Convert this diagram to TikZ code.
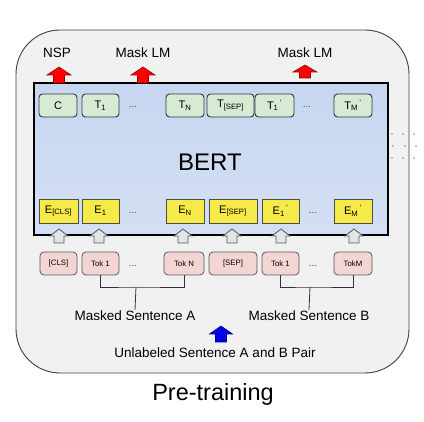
\documentclass[tikz,border=0pt]{standalone}
\usepackage{fontspec}
\setmainfont{Liberation Sans}
\usetikzlibrary{calc}
\definecolor{outerfill}{HTML}{F1F1F1}
\definecolor{berttop}{HTML}{C7D7F1}
\definecolor{bertbot}{HTML}{D3DFF4}
\definecolor{tokgreen}{HTML}{D7EAD3}
\definecolor{embyellow}{HTML}{F6EA48}
\definecolor{tokpink}{HTML}{F3D5D3}
\definecolor{arrowred}{HTML}{FF0000}
\definecolor{arrowblue}{HTML}{0000EE}
\definecolor{arrowgray}{HTML}{E4E4E4}
\tikzset{
  outerbox/.style={draw=black!75, line width=0.9pt, fill=outerfill, rounded corners=44pt},
  bertbox/.style={draw=black, line width=2pt, top color=berttop, bottom color=bertbot},
  tbox/.style={draw=black!80, line width=0.9pt, fill=tokgreen, rounded corners=3.5pt, minimum height=23pt, inner sep=0pt, font=\fontsize{11}{11}\selectfont},
  ebox/.style={draw=black!70, line width=0.9pt, fill=embyellow, minimum height=24pt, inner sep=0pt, font=\fontsize{11}{11}\selectfont},
  kbox/.style={draw=black!65, line width=0.8pt, fill=tokpink, rounded corners=4pt, minimum height=23pt, inner sep=0pt, font=\fontsize{7.8}{7.8}\selectfont},
  dotsl/.style={inner sep=0pt, font=\fontsize{10}{10}\selectfont, text=black!70},
  lbl/.style={inner sep=1pt, font=\fontsize{13.5}{13.5}\selectfont},
  bracket/.style={draw=black!80, line width=0.8pt},
  redarrow/.style={fill=arrowred, draw=red!60!black, line width=0.6pt},
  grayarrow/.style={fill=arrowgray, draw=black!65, line width=0.8pt},
  bluearrow/.style={fill=arrowblue, draw=blue!50!black, line width=0.6pt},
}
% block arrow: #1 x center, #2 top y, #3 bottom y, #4 head half width, #5 shaft half width, #6 head height, #7 style
\newcommand{\blockarrow}[7]{%
  \path[#7] (#1,#2) -- (#1+#4,#2+#6) -- (#1+#5,#2+#6) -- (#1+#5,#3) -- (#1-#5,#3) -- (#1-#5,#2+#6) -- (#1-#4,#2+#6) -- cycle;}
\newcommand{\TP}[1]{T\textsubscript{#1}\textsuperscript{\,'}}
\newcommand{\EP}[1]{E\textsubscript{#1}\textsuperscript{\,'}}
\begin{document}
\begin{tikzpicture}[x=1pt,y=-1pt]
\useasboundingbox (0,0) rectangle (424,422);
\fill[white] (0,0) rectangle (424,422);
% outer rounded box
\path[outerbox] (16,30) rectangle (409,373);
% right-edge dots
\foreach \xx/\yy in {392/134,403/134,414/134,393/146,405/146,416/146,392/158,403/158,414/158}
  \fill[black!45] (\xx,\yy) circle (0.9);
% BERT box
\path[bertbox] (34,83) rectangle (388,235);
\node[font=\fontsize{24}{24}\selectfont] (bert) at (210,162) {BERT};
% top tokens
\node[tbox, minimum width=38pt] (c) at (58,105.5) {C};
\node[tbox, minimum width=37pt] (t1) at (100.5,105.5) {T\textsubscript{1}};
\node[dotsl] (d1) at (133,107) {...};
\node[tbox, minimum width=38pt] (tn) at (185,105.5) {T\textsubscript{N}};
\node[tbox, minimum width=47pt] (tsep) at (230.5,105.5) {T\textsubscript{[SEP]}};
\node[tbox, minimum width=39pt] (t1p) at (274.5,105.5) {\TP{1}};
\node[dotsl] (d2) at (307,107) {...};
\node[tbox, minimum width=38pt] (tmp) at (353,105.5) {\TP{M}};
% embeddings
\node[ebox, minimum width=39pt] (ecls) at (58.5,211) {E\textsubscript{[CLS]}};
\node[ebox, minimum width=37pt] (e1) at (100.5,211) {E\textsubscript{1}};
\node[dotsl] (d3) at (133,213) {...};
\node[ebox, minimum width=38pt] (en) at (185,211) {E\textsubscript{N}};
\node[ebox, minimum width=48pt] (esep) at (233,211) {E\textsubscript{[SEP]}};
\node[ebox, minimum width=37pt] (e1p) at (280.5,211) {\EP{1}};
\node[dotsl] (d4) at (313,213) {...};
\node[ebox, minimum width=38pt] (emp) at (353,211) {\EP{M}};
% input tokens
\node[kbox, minimum width=37pt] (kcls) at (58.5,263.5) {[CLS]};
\node[kbox, minimum width=37pt] (k1) at (100.5,263.5) {Tok 1};
\node[dotsl] (d5) at (133,266) {...};
\node[kbox, minimum width=40pt] (kn) at (184,263.5) {Tok N};
\node[kbox, minimum width=48pt] (ksep) at (233,263.5) {[SEP]};
\node[kbox, minimum width=37pt] (k1p) at (280.5,263.5) {Tok 1};
\node[dotsl] (d6) at (313,266) {...};
\node[kbox, minimum width=38pt] (km) at (353,263.5) {TokM};
% gray arrows
\foreach \xx in {59,99,183,232,281,354}
  \blockarrow{\xx}{229}{243}{9}{5}{7}{grayarrow};
% output labels and red arrows
\node[lbl] (nsp) at (57,53) {NSP};
\node[lbl] (mlm1) at (143,53) {Mask LM};
\node[lbl] (mlm2) at (305,53) {Mask LM};
\blockarrow{59}{67}{83}{12}{5.5}{8}{redarrow};
\blockarrow{143}{67}{83}{12}{5.5}{8}{redarrow};
\blockarrow{305}{65}{78}{12}{5.5}{7}{redarrow};
% brackets
\node[lbl] (msa) at (135,316) {Masked Sentence A};
\node[lbl] (msb) at (309,316) {Masked Sentence B};
\coordinate (ba) at (136,287);
\coordinate (bb) at (310,287);
\draw[bracket] (k1.south) |- (ba) -| (kn.south);
\draw[bracket] (ba) -- (msa.north);
\draw[bracket] (k1p.south) |- (bb) -| (km.south);
\draw[bracket] (bb) -- (msb.north);
% blue arrow and bottom labels
\blockarrow{221}{326}{342}{11.5}{5.5}{8}{bluearrow};
\node[lbl] (pair) at (215,353) {Unlabeled Sentence A and B Pair};
\node[font=\fontsize{23.5}{23.5}\selectfont] (pre) at (213,394) {Pre-training};
\end{tikzpicture}
\end{document}
